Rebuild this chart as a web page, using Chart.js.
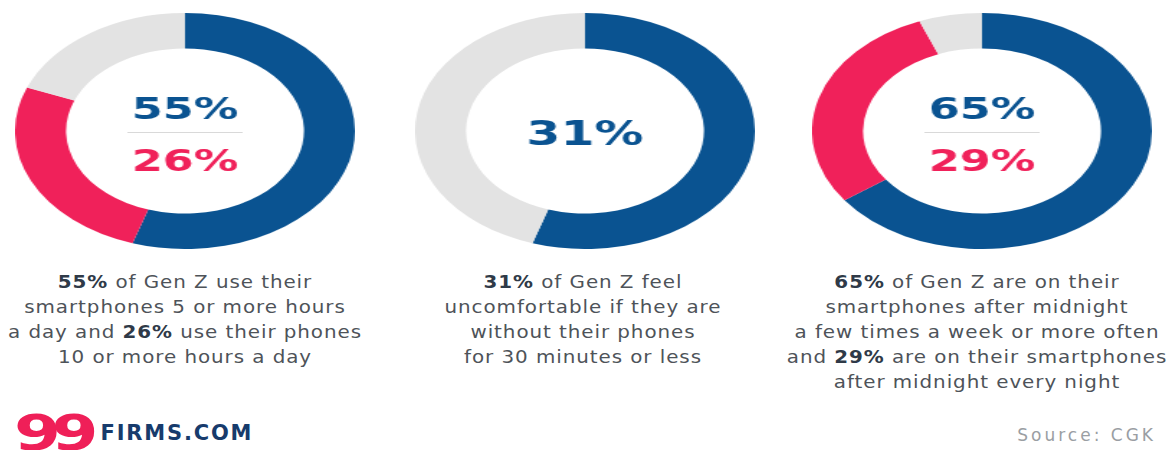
<!DOCTYPE html>
<html>
<head>
<meta charset="utf-8">
<script src="https://cdn.jsdelivr.net/npm/chart.js@4/dist/chart.umd.min.js"></script>
<style>
  html, body { margin: 0; padding: 0; background: #fff; }
  body { width: 1174px; height: 450px; position: relative; overflow: hidden; font-family: "DejaVu Sans", sans-serif; }
  .ring { position: absolute; top: 13px; width: 236px; height: 236px; transform: scaleX(1.44); transform-origin: center; }
  .ring canvas { display: block; }
  .caption { position: absolute; top: 270px; width: 420px; text-align: center; color: #4e5359; font-size: 17px; line-height: 25px; letter-spacing: 0.8px; transform: scaleX(1.17); transform-origin: center; }
  .caption b { color: #2f3a48; }
  .logo { position: absolute; left: 14px; top: 404px; white-space: nowrap; }
  .logo .nn { display: inline-block; color: #ef1f58; font-weight: 900; font-size: 50px; letter-spacing: -7px; vertical-align: middle; transform: scaleX(1.35); transform-origin: left center; margin-right: 31px; }
  .logo .ff { display: inline-block; color: #173b6c; font-weight: bold; font-size: 21px; letter-spacing: 1.8px; vertical-align: middle; }
  .source { position: absolute; right: 18px; top: 425px; color: #9a9ea3; font-size: 17px; letter-spacing: 3px; }
</style>
</head>
<body>
<div class="ring" style="left:67px"><canvas id="ring1" width="236" height="236"></canvas></div>
<div class="ring" style="left:467px"><canvas id="ring2" width="236" height="236"></canvas></div>
<div class="ring" style="left:864px"><canvas id="ring3" width="236" height="236"></canvas></div>

<div class="caption" style="left:-25px"><b>55%</b> of Gen Z use their<br>smartphones 5 or more hours<br>a day and <b>26%</b> use their phones<br>10 or more hours a day</div>
<div class="caption" style="left:373px"><b>31%</b> of Gen Z feel<br>uncomfortable if they are<br>without their phones<br>for 30 minutes or less</div>
<div class="caption" style="left:767px"><b>65%</b> of Gen Z are on their<br>smartphones after midnight<br>a few times a week or more often<br>and <b>29%</b> are on their smartphones<br>after midnight every night</div>

<div class="logo"><span class="nn">99</span><span class="ff">FIRMS.COM</span></div>
<div class="source">Source: CGK</div>

<script>
// data
const ring1Labels = ['5+ hours a day', '10+ hours a day', 'Other'];
const ring1Values = [55, 26, 19];
const ring1Center = ['55%', '26%'];

const ring2Labels = ['Uncomfortable without phone', 'Other'];
const ring2Values = [55, 45];
const ring2Center = ['31%'];

const ring3Labels = ['After midnight weekly', 'After midnight every night', 'Other'];
const ring3Values = [65, 29, 6];
const ring3Center = ['65%', '29%'];

const BLUE = '#0a5391';
const RED = '#f0215a';
const GREY = '#e3e3e3';

// draws the percentages in the middle of the ring
const centerText = {
  id: 'centerText',
  afterDraw(chart, args, opts) {
    const ctx = chart.ctx;
    const cx = (chart.chartArea.left + chart.chartArea.right) / 2;
    ctx.save();
    ctx.textAlign = 'center';
    ctx.textBaseline = 'alphabetic';
    if (opts.lines.length === 1) {
      ctx.font = 'bold 34px "DejaVu Sans"';
      ctx.fillStyle = BLUE;
      ctx.fillText(opts.lines[0], cx, 132);
    } else {
      ctx.font = 'bold 31px "DejaVu Sans"';
      ctx.fillStyle = BLUE;
      ctx.fillText(opts.lines[0], cx, 106);
      ctx.strokeStyle = '#d9d9d9';
      ctx.lineWidth = 1;
      ctx.beginPath();
      ctx.moveTo(cx - 40, 119.5);
      ctx.lineTo(cx + 40, 119.5);
      ctx.stroke();
      ctx.fillStyle = RED;
      ctx.fillText(opts.lines[1], cx, 158);
    }
    ctx.restore();
  }
};

function makeRing(id, labels, values, colors, center) {
  new Chart(document.getElementById(id), {
    type: 'doughnut',
    data: {
      labels: labels,
      datasets: [{
        data: values,
        backgroundColor: colors,
        borderWidth: 0
      }]
    },
    options: {
      responsive: false,
      animation: false,
      cutout: '70%',
      layout: { padding: 0 },
      plugins: {
        legend: { display: false },
        tooltip: { enabled: false },
        centerText: { lines: center }
      }
    },
    plugins: [centerText]
  });
}

makeRing('ring1', ring1Labels, ring1Values, [BLUE, RED, GREY], ring1Center);
makeRing('ring2', ring2Labels, ring2Values, [BLUE, GREY], ring2Center);
makeRing('ring3', ring3Labels, ring3Values, [BLUE, RED, GREY], ring3Center);
</script>
</body>
</html>
